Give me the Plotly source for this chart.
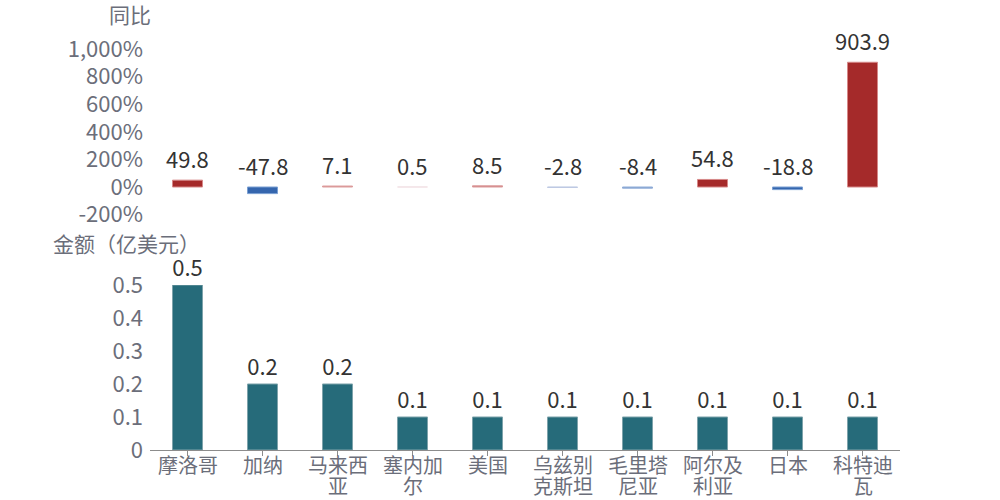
import plotly.graph_objects as go

categories = ["摩洛哥", "加纳", "马来西亚", "塞内加尔", "美国", "乌兹别克斯坦",
              "毛里塔尼亚", "阿尔及利亚", "日本", "科特迪瓦"]
tick_labels = ["摩洛哥", "加纳", "马来西<br>亚", "塞内加<br>尔", "美国", "乌兹别<br>克斯坦",
               "毛里塔<br>尼亚", "阿尔及<br>利亚", "日本", "科特迪<br>瓦"]
yoy_pct = [49.8, -47.8, 7.1, 0.5, 8.5, -2.8, -8.4, 54.8, -18.8, 903.9]
amount = [0.5, 0.2, 0.2, 0.1, 0.1, 0.1, 0.1, 0.1, 0.1, 0.1]
yoy_tickvals = [-200, 0, 200, 400, 600, 800, 1000]
yoy_ticktext = ["-200%", "0%", "200%", "400%", "600%", "800%", "1,000%"]
amount_tickvals = [0, 0.1, 0.2, 0.3, 0.4, 0.5]
amount_ticktext = ["0", "0.1", "0.2", "0.3", "0.4", "0.5"]

FONT = "Noto Sans CJK SC, Noto Sans, sans-serif"
GRAY = "#6b6e7a"
DARK = "#333333"

fig = go.Figure()

fig.add_trace(go.Bar(
    x=categories, y=yoy_pct, xaxis="x", yaxis="y", width=0.4,
    marker=dict(
        color=yoy_pct, cmin=-15, cmax=15,
        colorscale=[[0, "#3566ae"], [0.5, "#f7f2f4"], [1, "#a52a2a"]],
        line=dict(width=1, color=yoy_pct, cmin=-15, cmax=15,
                  colorscale=[[0, "#7a9fd2"], [0.35, "#9ab4dc"], [0.5, "#f3e8ec"],
                              [0.65, "#e0a4a4"], [1, "#d68888"]]),
    ),
    showlegend=False, hoverinfo="x+y",
))

fig.add_trace(go.Bar(
    x=categories, y=amount, xaxis="x2", yaxis="y2", width=0.4,
    marker=dict(color="#266b7a", line=dict(width=1, color="#7ea3ab")),
    text=[f"{v:.1f}" for v in amount], textposition="outside",
    textfont=dict(size=22, color=DARK, family=FONT), constraintext="none",
    cliponaxis=False, showlegend=False, hoverinfo="x+y",
))

annotations = [
    dict(text="同比", x=-0.027, y=1.0873, xref="paper", yref="paper",
         xanchor="center", yanchor="middle", borderpad=0,
         showarrow=False, font=dict(size=21, color=GRAY, family=FONT)),
    dict(text="金额（亿美元）", x=-0.031, y=0.517, xref="paper", yref="paper",
         xanchor="center", yanchor="middle", borderpad=0,
         showarrow=False, font=dict(size=21, color=GRAY, family=FONT)),
]
for cat, v in zip(categories, yoy_pct):
    annotations.append(dict(
        text=f"{v:.1f}", x=cat, y=max(v, 0), xref="x", yref="y",
        xanchor="center", yanchor="bottom", yshift=4, showarrow=False,
        font=dict(size=22, color=DARK, family=FONT)))
for cat, lab in zip(categories, tick_labels):
    for i, line in enumerate(lab.split("<br>")):
        annotations.append(dict(
            text=line, x=cat, y=0, xref="x2", yref="y2", yanchor="top",
            yshift=1 - 21 * i, showarrow=False, borderpad=0,
            font=dict(size=20, color=GRAY, family=FONT)))

fig.update_layout(
    width=1000, height=500,
    margin=dict(l=150, r=100, t=49, b=50),
    paper_bgcolor="white", plot_bgcolor="white",
    font=dict(family=FONT, color=GRAY),
    bargap=0.6,
    xaxis=dict(domain=[0, 1], anchor="y", range=[-0.5, 9.5], visible=False,
               categoryorder="array", categoryarray=categories),
    yaxis=dict(domain=[0.587, 1], anchor="x", range=[-200, 1000],
               tickvals=yoy_tickvals, ticktext=yoy_ticktext, showgrid=False,
               zeroline=False, showline=False, ticks="", ticklabelstandoff=6,
               tickfont=dict(size=22, color=GRAY, family=FONT)),
    xaxis2=dict(domain=[0, 1], anchor="y2", range=[-0.5, 9.5],
                categoryorder="array", categoryarray=categories,
                showticklabels=False, showline=True, linecolor="#8c8c8c", linewidth=1,
                ticks="outside", ticklen=5, tickcolor="#8c8c8c", showgrid=False),
    yaxis2=dict(domain=[0, 0.4115], anchor="x2", range=[0, 0.5],
                tickvals=amount_tickvals, ticktext=amount_ticktext, showgrid=False,
                zeroline=False, showline=False, ticks="", ticklabelstandoff=6,
                tickfont=dict(size=22, color=GRAY, family=FONT)),
    annotations=annotations,
)

fig.write_html("out.html", config={"displayModeBar": False},
               post_script="document.body.style.margin='0';document.body.style.overflow='hidden';")
